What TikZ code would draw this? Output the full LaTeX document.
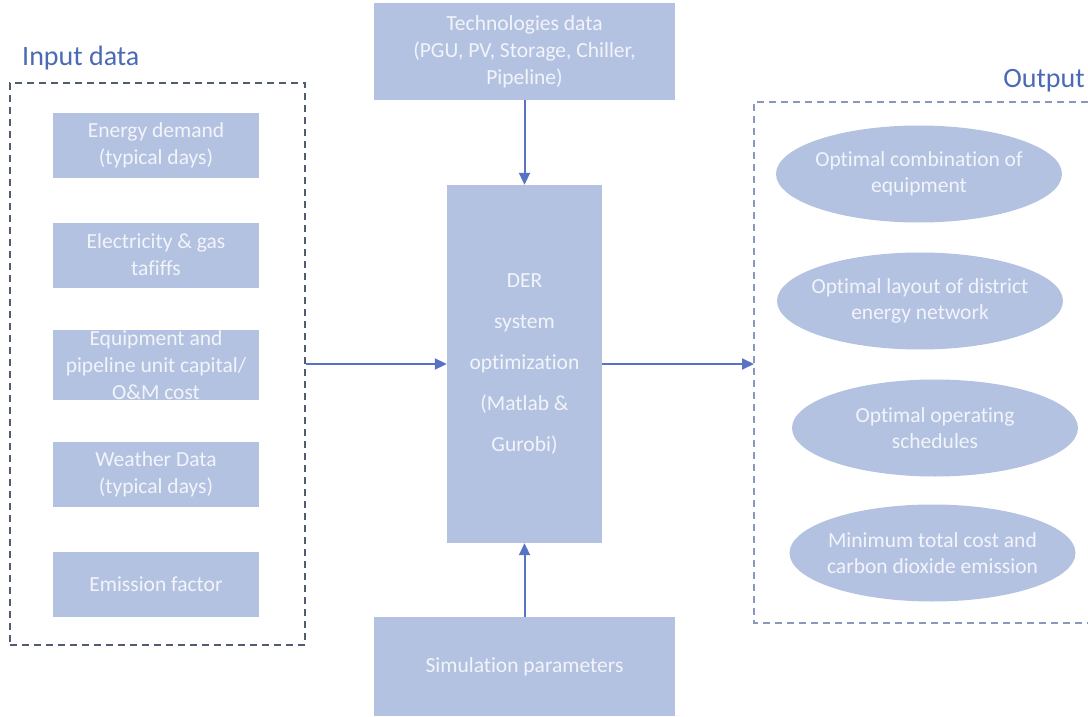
\documentclass[tikz,border=0pt]{standalone}
\usepackage{fontspec}
\setmainfont[Ligatures=NoCommon]{Carlito}
\usetikzlibrary{shapes.geometric,arrows.meta}
\definecolor{boxfill}{HTML}{B4C2E2}
\definecolor{boxtext}{HTML}{F2F4FA}
\definecolor{arrowc}{HTML}{5873C2}
\definecolor{titlec}{HTML}{4A6AB4}
\definecolor{leftdash}{HTML}{525C70}
\definecolor{rightdash}{HTML}{8A98BA}
\tikzset{
  inbox/.style={fill=boxfill, text=boxtext, minimum width=206pt, minimum height=65pt, inner sep=0pt, align=center, font=\fontsize{21.5}{27}\selectfont},
  bigbox/.style={fill=boxfill, text=boxtext, minimum width=301pt, inner sep=0pt, align=center, font=\fontsize{21.5}{27}\selectfont},
  outell/.style={ellipse, fill=boxfill, text=boxtext, minimum width=286pt, minimum height=97pt, inner xsep=-8pt, inner ysep=0pt, align=center, font=\fontsize{21.5}{26}\selectfont},
  arr/.style={draw=arrowc, line width=2pt, -{Triangle[length=12pt,width=11pt]}},
  titletext/.style={text=titlec, inner sep=0pt, font=\fontsize{28}{32}\selectfont},
}
\begin{document}
\begin{tikzpicture}[x=1pt,y=-1pt]
\useasboundingbox (0,0) rectangle (1088,717);
% input frame
\node[draw=leftdash, dash pattern=on 7pt off 5pt, line width=1.4pt, minimum width=295pt, minimum height=562pt, inner sep=0pt] (inframe) at (157.5,364) {};
\node[titletext, anchor=base west] (intitle) at (22,66) {Input data};
\node[inbox] (b1) at (156,145.5) {Energy demand\\(typical days)};
\node[inbox] (b2) at (156,255) {Electricity \& gas\\tafiffs};
\node[inbox] (b3) at (156,365) {Equipment and\\pipeline unit capital/\\O\&M cost};
\node[inbox] (b4) at (156,474.5) {Weather Data\\(typical days)};
\node[inbox] (b5) at (156,584) {Emission factor};
% top and bottom
\node[bigbox, minimum height=97pt] (tech) at (524.5,51.5) {Technologies data\\(PGU, PV, Storage, Chiller,\\Pipeline)};
\node[bigbox, minimum height=99pt] (sim) at (524.5,666.5) {Simulation parameters};
% center
\node[fill=boxfill, text=boxtext, minimum width=155pt, minimum height=358pt, inner sep=0pt, align=center, font=\fontsize{21.5}{41}\selectfont] (der) at (524.5,364) {DER\\system\\optimization\\(Matlab \&\\Gurobi)};
% output frame
\draw[draw=rightdash, dash pattern=on 7pt off 5pt, line width=1.3pt] (1088,102) -- (754,102) -- (754,623) -- (1088,623);
\coordinate (outW) at (754,364);
\node[titletext, anchor=base east] (outtitle) at (1085,88) {Output};
\node[outell] (e1) at (919,174) {Optimal combination of\\equipment};
\node[outell] (e2) at (920,301) {Optimal layout of district\\energy network};
\node[outell] (e3) at (935,428) {Optimal operating\\schedules};
\node[outell] (e4) at (932.5,553) {Minimum total cost and\\carbon dioxide emission};
% arrows
\draw[arr] (tech.south) -- (der.north);
\draw[arr] (sim.north) -- (der.south);
\draw[arr] (inframe.east) -- (der.west);
\draw[arr] (der.east) -- (outW);
\end{tikzpicture}
\end{document}
